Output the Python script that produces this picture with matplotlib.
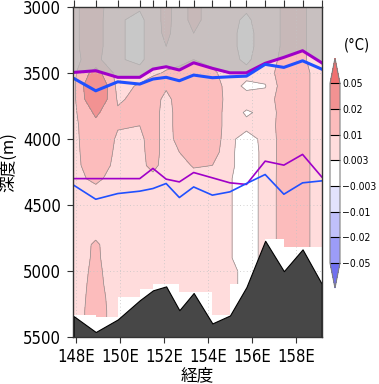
import numpy as np
import matplotlib
matplotlib.use("Agg")
import matplotlib.pyplot as plt
from matplotlib.colors import ListedColormap, BoundaryNorm

plt.rcParams['font.family'] = ['DejaVu Sans']
plt.rcParams['font.stretch'] = 'condensed'

# station longitudes (top ticks) and depth rows of the section
lons = [147.9, 148.9, 149.9, 150.9, 151.5, 152.1, 152.7, 153.35, 154.2, 155.0, 155.75, 156.6, 157.45, 158.3, 159.17]
depths = [3000, 3100, 3200, 3300, 3400, 3500, 3600, 3700, 3800, 3900, 4000, 4100, 4200,
          4300, 4400, 4500, 4600, 4700, 4800, 4900, 5000, 5100, 5200, 5300, 5400, 5500]

# temperature difference per station column, in 1e-3 degC, top to bottom
st = [
    [9, 9, 9, 9, 9, 8, 8, 8, 8, 8, 8, 8, 8, 8, 7, 7, 7, 7, 7, 7, 7, 7, 7, 7, 7, 7],
    [13, 13, 13, 13, 12, 25, 35, 32, 22, 17, 16, 15, 14, 11.5, 8, 7, 7, 8.5, 10.8, 11, 11.5, 12, 12.5, 13, 13, 13],
    [5, 4, 4, 4, 4, 6, 7, 9, 11, 10.5, 9, 8.5, 8, 7, 6.5, 6.5, 6.5, 6.5, 6.5, 6.5, 6.5, 6.5, 7, 7, 7, 7],
    [4, 1, 1, 1, 1, 6, 11, 12, 12, 10, 8.5, 8, 8, 7, 6.5, 6.5, 6.5, 6.5, 6.5, 6.5, 6.5, 6.5, 6.5, 6.5, 6.5, 6.5],
    [7, 7, 7, 7, 7, 9, 13, 13, 13, 13, 13, 13, 12, 8, 6.5, 6.5, 6.5, 6.5, 6.5, 6.5, 6.5, 6.5, 6.5, 6.5, 6.5, 6.5],
    [12, 12, 11.5, 10, 8, 10.5, 11, 8, 7, 7, 7, 7, 7, 6.5, 6.5, 6.5, 6.5, 6.5, 6.5, 6.5, 6.5, 6.5, 6.5, 6.5, 6.5, 6.5],
    [7, 7, 7, 7, 8, 12, 13, 13, 13, 13, 12.5, 10, 8, 6.5, 6.5, 6.5, 6.5, 6.5, 6.5, 6.5, 6.5, 6.5, 6.5, 6.5, 6.5, 6.5],
    [12, 12, 10, 8, 10, 14, 14, 14, 14, 14, 14, 14, 10.5, 8, 6.5, 6.5, 6.5, 6.5, 6.5, 6.5, 6.5, 6.5, 6.5, 6.5, 6.5, 6.5],
    [7, 7, 7, 7, 7, 12, 16, 16, 16, 16, 16, 14, 10, 7, 6.5, 6.5, 6.5, 6.5, 6.5, 6.5, 6.5, 6.5, 6.5, 6.5, 6.5, 6.5],
    [6, 4.5, 4.5, 4.5, 4.5, 5, 5, 6, 5, 5, 3.8, 3.8, 3.8, 3.3, 3.3, 3.3, 3.3, 3.3, 3.3, 3.3, 4.8, 4.8, 5, 5, 5, 5],
    [4, 2, 1, 1, 2, 4.5, 2, 5, 2.5, 4, 1.5, 1, 1, 1, 1, 1, 1, 1, 1, 1, 1, 1, 1, 1, 1, 1],
    [6, 6, 6, 6, 6, 6, 2.5, 6, 4, 5, 4, 4, 4, 4.2, 4.2, 4.2, 4.2, 4.2, 4.2, 4.2, 4.2, 4.2, 4.2, 4.2, 4.2, 4.2],
    [11, 11, 11, 11, 12, 14, 14, 14, 14, 14, 14, 14, 14, 14, 14, 14, 14, 14, 14, 14, 14, 14, 14, 14, 14, 14],
    [11, 11, 11, 11, 11, 12.5, 12.5, 12.5, 12.5, 12.5, 12.5, 12.5, 12.5, 12.5, 12.5, 12.5, 12.5, 12.5, 12.5, 12.5, 12.5, 12.5, 12.5, 12.5, 12.5, 12.5],
    [6, 6, 6, 6, 6, 6, 6, 6, 6, 6, 6, 6, 6, 6, 6, 6, 6, 6, 6, 6, 6, 6, 6, 6, 6, 6],
]

# deepest level with data (step, from each station to the next)
data_bottom = [5335, 5350, 5195, 5135, 5095, 5095, 5155, 5155, 5335, 5100, 5100, 4755, 4820, 4820, 4820]
bathy = [5340, 5460, 5365, 5220, 5145, 5115, 5295, 5165, 5395, 5335, 5120, 4770, 5000, 4835, 5095]
upper_purple = [3497, 3484, 3534, 3534, 3472, 3454, 3479, 3424, 3466, 3500, 3500, 3428, 3383, 3333, 3424]
upper_blue = [3542, 3636, 3568, 3585, 3547, 3534, 3560, 3517, 3537, 3530, 3525, 3436, 3459, 3409, 3472]
lower_purple = [4300, 4300, 4300, 4300, 4223, 4304, 4325, 4254, 4294, 4332, 4344, 4168, 4198, 4117, 4287]
lower_blue = [4350, 4456, 4413, 4395, 4375, 4337, 4443, 4363, 4425, 4400, 4337, 4269, 4418, 4332, 4317]

levels = [-0.05, -0.02, -0.01, -0.003, 0.003, 0.01, 0.02, 0.05]
fill_colors = ['#9c9cf8', '#c0c0fa', '#e2e2fd', '#ffffff', '#ffdcdc', '#fcbcbc', '#f29292']
under_color = '#7070f0'
over_color = '#f07070'
xticks = [148, 150, 152, 154, 156, 158]
yticks = [3000, 3500, 4000, 4500, 5000, 5500]

field = np.array(st).T / 1000.0

cmap = ListedColormap(fill_colors)
cmap.set_under(under_color)
cmap.set_over(over_color)
norm = BoundaryNorm(levels, cmap.N)

fig = plt.figure(figsize=(3.79, 3.84), dpi=100)
ax = fig.add_axes([73.3 / 379, 1 - 337.3 / 384, 248.4 / 379, 330.6 / 384])

cf = ax.contourf(lons, depths, field, levels=levels, cmap=cmap, norm=norm, extend='both', zorder=1)
ax.contour(lons, depths, field, levels=levels, colors='#8c8c8c', linewidths=0.5, zorder=1.1)
ax.fill_between(lons, data_bottom, 5600, step='post', color='white', lw=0, zorder=1.2)
ax.fill_between(lons, 2900, upper_purple, color='#b8b8b8', alpha=0.77, lw=0, zorder=1.3)

ax.plot(lons, lower_purple, color='#a000c8', lw=1.2, zorder=1.6)
ax.plot(lons, lower_blue, color='#2050ff', lw=1.2, zorder=1.6)
ax.plot(lons, upper_purple, color='#a000c8', lw=2.2, zorder=1.7)
ax.plot(lons, upper_blue, color='#2050ff', lw=2.2, zorder=1.7)

ax.fill_between(lons, bathy, 5600, color='#474747', edgecolor='black', lw=0.8, zorder=2)

ax.set_xlim(147.88, 159.17)
ax.set_ylim(5500, 3000)
ax.set_xticks(xticks, [f"{t}E" for t in xticks])
ax.set_yticks(yticks)
ax.tick_params(direction='out', length=4, width=0.8, labelsize=12, color='#333333')
ax.tick_params(axis='x', pad=4)
ax.tick_params(axis='y', pad=5)
ax.grid(color='#c4c4c4', linestyle=(0, (1, 3)), lw=0.6)
for s in ax.spines.values():
    s.set_color('#333333')
    s.set_linewidth(1.0)

top = ax.secondary_xaxis('top')
top.set_xticks(lons, [''] * len(lons))
top.tick_params(direction='out', length=5, width=0.8, color='#333333')
top.spines['top'].set_visible(False)

ax.set_xlabel('経度', family=['Noto Sans CJK JP'], fontsize=12)
ax.set_ylabel('深度(m)', family=['Noto Sans CJK JP', 'DejaVu Sans'], fontsize=12)
ax.xaxis.set_label_coords(0.5, -0.09)
ax.yaxis.set_label_coords(-0.225, 0.53)

cax = fig.add_axes([330 / 379, 1 - 288 / 384, 10 / 379, 229.7 / 384])
cb = fig.colorbar(cf, cax=cax, extendfrac=0.14, drawedges=True)
cb.set_ticks(levels)
cb.set_ticklabels([f"{v:g}".replace('-', '\u2212') for v in levels])
cb.ax.tick_params(length=0, labelsize=7.5, pad=1.5)
cb.outline.set_edgecolor('#808080')
cb.outline.set_linewidth(0.8)
cb.dividers.set_color('black')
cb.dividers.set_linewidth(0.8)
fig.text(357 / 379, 1 - 45 / 384, '(°C)', ha='center', va='center', fontsize=10.5)

fig.savefig('out.png', dpi=100)
